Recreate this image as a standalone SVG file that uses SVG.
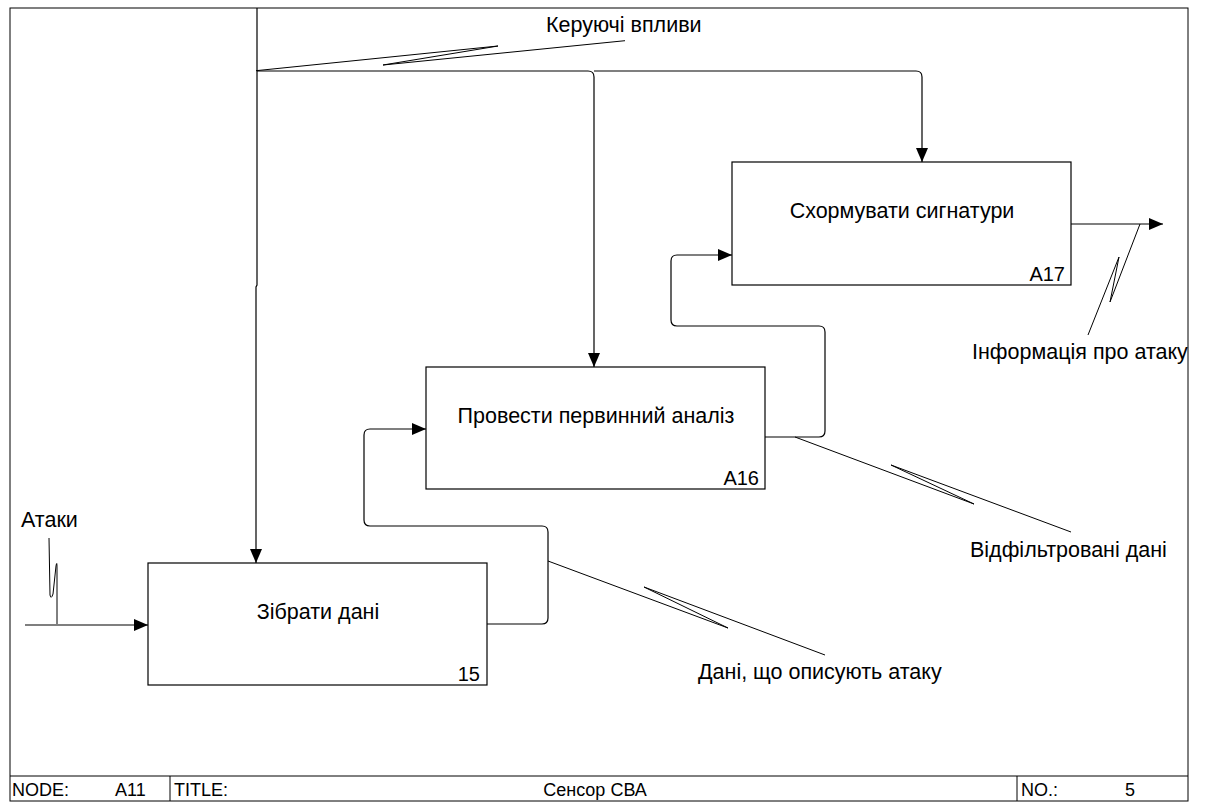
<svg xmlns="http://www.w3.org/2000/svg" width="1211" height="805" viewBox="0 0 1211 805">
<defs>
<marker id="arr" markerUnits="userSpaceOnUse" markerWidth="14" markerHeight="12" refX="14" refY="6" orient="auto">
<path d="M0,0 L14,6 L0,12 z" fill="#000"/>
</marker>
<style>
.frame{fill:none;stroke:#000;stroke-width:1}
.box{fill:#fff;stroke:#000;stroke-width:1.2}
.ln{fill:none;stroke:#000;stroke-width:1.2}
.sq{fill:none;stroke:#000;stroke-width:1}
.t{font-family:"Liberation Sans",Arial,sans-serif;font-size:21.5px;fill:#000}
.id{font-family:"Liberation Sans",Arial,sans-serif;font-size:20px;fill:#000;text-anchor:end}
.f{font-family:"Liberation Sans",Arial,sans-serif;font-size:18px;fill:#000}
.c{text-anchor:middle}
</style>
</defs>
<rect width="1211" height="805" fill="#fff"/>
<g id="frame">
<rect class="frame" x="10" y="8" width="1178" height="793"/>
<line class="frame" x1="10" y1="776" x2="1188" y2="776"/>
<line class="frame" x1="170" y1="776" x2="170" y2="801"/>
<line class="frame" x1="1017" y1="776" x2="1017" y2="801"/>
<text class="f" x="12" y="796">NODE:</text>
<text class="f" x="115" y="796">A11</text>
<text class="f" x="174" y="796">TITLE:</text>
<text class="f c" x="595" y="796">Сенсор СВА</text>
<text class="f" x="1021" y="796">NO.:</text>
<text class="f" x="1125" y="796">5</text>
</g>
<g id="connectors">
<path class="ln" d="M257,8 V285 L256,287 V563" marker-end="url(#arr)"/>
<path class="ln" d="M257,71 H588 Q594,71 594,77 V367" marker-end="url(#arr)"/>
<path class="ln" d="M594,71 H916 Q922,71 922,77 V162" marker-end="url(#arr)"/>
<path class="ln" d="M25,625 H148" marker-end="url(#arr)"/>
<path class="ln" d="M487,624 H542 Q548,624 548,618 V532 Q548,526 542,526 H370 Q364,526 364,520 V435 Q364,429 370,429 H426" marker-end="url(#arr)"/>
<path class="ln" d="M765,437 H819 Q825,437 825,431 V332 Q825,326 819,326 H677 Q671,326 671,320 V261 Q671,255 677,255 H732" marker-end="url(#arr)"/>
<path class="ln" d="M1071,224 H1163" marker-end="url(#arr)"/>
<path class="sq" d="M256,70.7 L498,46 L383,65 L625,40.7"/>
<path class="sq" d="M548,561 L728,628 L644,587 L825,655"/>
<path class="sq" d="M795,437 L974,504 L891,465 L1071,532"/>
<path class="sq" d="M1140,224 L1110,302 L1119,257 L1088,335"/>
<path class="sq" d="M49,538 L50,595 Q51,600 53,594 L56,566 Q57,560 57,568 L57,624"/>
<text class="t" x="546" y="32">Керуючі впливи</text>
<text class="t" x="21" y="527">Атаки</text>
<text class="t" x="698" y="679">Дані, що описують атаку</text>
<text class="t" x="970" y="557">Відфільтровані дані</text>
<text class="t" x="972" y="359">Інформація про атаку</text>
</g>
<g id="box1">
<rect class="box" x="148" y="563" width="339" height="122"/>
<text class="t c" x="318" y="619">Зібрати дані</text>
<text class="id" x="480" y="681">15</text>
</g>
<g id="box2">
<rect class="box" x="426" y="367" width="339" height="122"/>
<text class="t c" x="596" y="423">Провести первинний аналіз</text>
<text class="id" x="759" y="485">A16</text>
</g>
<g id="box3">
<rect class="box" x="732" y="162" width="339" height="123"/>
<text class="t c" x="902" y="218">Схормувати сигнатури</text>
<text class="id" x="1065" y="281">A17</text>
</g>
</svg>
